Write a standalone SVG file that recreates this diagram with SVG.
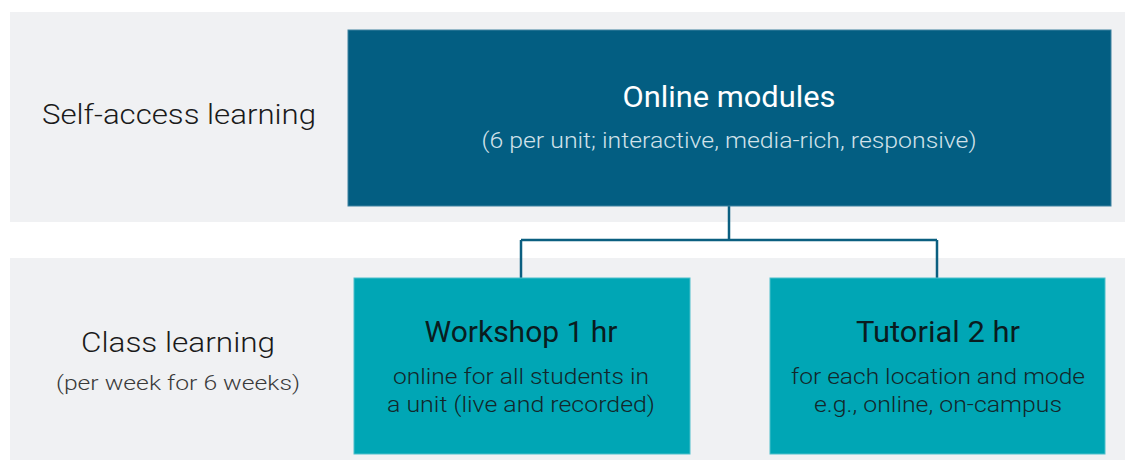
<svg xmlns="http://www.w3.org/2000/svg" width="1125" height="460" viewBox="0 0 1125 460">
<style>
.band{fill:#f0f1f3}
.lbl{font-family:Roboto,"Liberation Sans",sans-serif;font-weight:300;fill:#1a1a1a;text-anchor:middle}
.title{font-family:Roboto,"Liberation Sans",sans-serif;font-size:29px;text-anchor:middle}
.sub{font-family:Roboto,"Liberation Sans",sans-serif;font-size:22px;font-weight:300;text-anchor:middle}
.conn{fill:none;stroke:#0b5f80;stroke-width:2.5}
</style>
<rect width="1125" height="460" fill="#ffffff"/>
<rect class="band" x="10" y="12" width="1115" height="210"/>
<rect class="band" x="10" y="258" width="1115" height="202"/>
<g id="label-self">
<text class="lbl" x="179" y="124" font-size="27" textLength="274" lengthAdjust="spacingAndGlyphs">Self-access learning</text>
</g>
<g id="label-class">
<text class="lbl" x="178" y="352" font-size="27" textLength="194" lengthAdjust="spacingAndGlyphs">Class learning</text>
<text class="lbl" x="178" y="390" font-size="20" textLength="244" lengthAdjust="spacingAndGlyphs" style="fill:#3a3a3a">(per week for 6 weeks)</text>
</g>
<g id="connectors">
<path class="conn" d="M729 206 V240 M521 240 H937 M521 240 V278 M937 240 V278"/>
</g>
<g id="online-modules">
<rect x="348" y="30" width="763" height="176" fill="#035e82" stroke="#3e82a0" stroke-width="1"/>
<text class="title" x="729" y="107" fill="#ffffff" textLength="213" lengthAdjust="spacingAndGlyphs">Online modules</text>
<text class="sub" x="729" y="148" fill="#d2e2ea" textLength="495" lengthAdjust="spacingAndGlyphs">(6 per unit; interactive, media-rich, responsive)</text>
</g>
<g id="workshop">
<rect x="354" y="278" width="336" height="176" fill="#00a6b5" stroke="#4cc0cb" stroke-width="1"/>
<text class="title" x="521" y="342" fill="#0a1c20" textLength="193" lengthAdjust="spacingAndGlyphs">Workshop 1 hr</text>
<text class="sub" x="521" y="384" fill="#13272b" textLength="256" lengthAdjust="spacingAndGlyphs">online for all students in</text>
<text class="sub" x="521" y="412" fill="#13272b" textLength="268" lengthAdjust="spacingAndGlyphs">a unit (live and recorded)</text>
</g>
<g id="tutorial">
<rect x="770" y="278" width="335" height="176" fill="#00a6b5" stroke="#4cc0cb" stroke-width="1"/>
<text class="title" x="938" y="342" fill="#0a1c20" textLength="164" lengthAdjust="spacingAndGlyphs">Tutorial 2 hr</text>
<text class="sub" x="938" y="384" fill="#13272b" textLength="294" lengthAdjust="spacingAndGlyphs">for each location and mode</text>
<text class="sub" x="938" y="412" fill="#13272b" textLength="248" lengthAdjust="spacingAndGlyphs">e.g., online, on-campus</text>
</g>
</svg>
